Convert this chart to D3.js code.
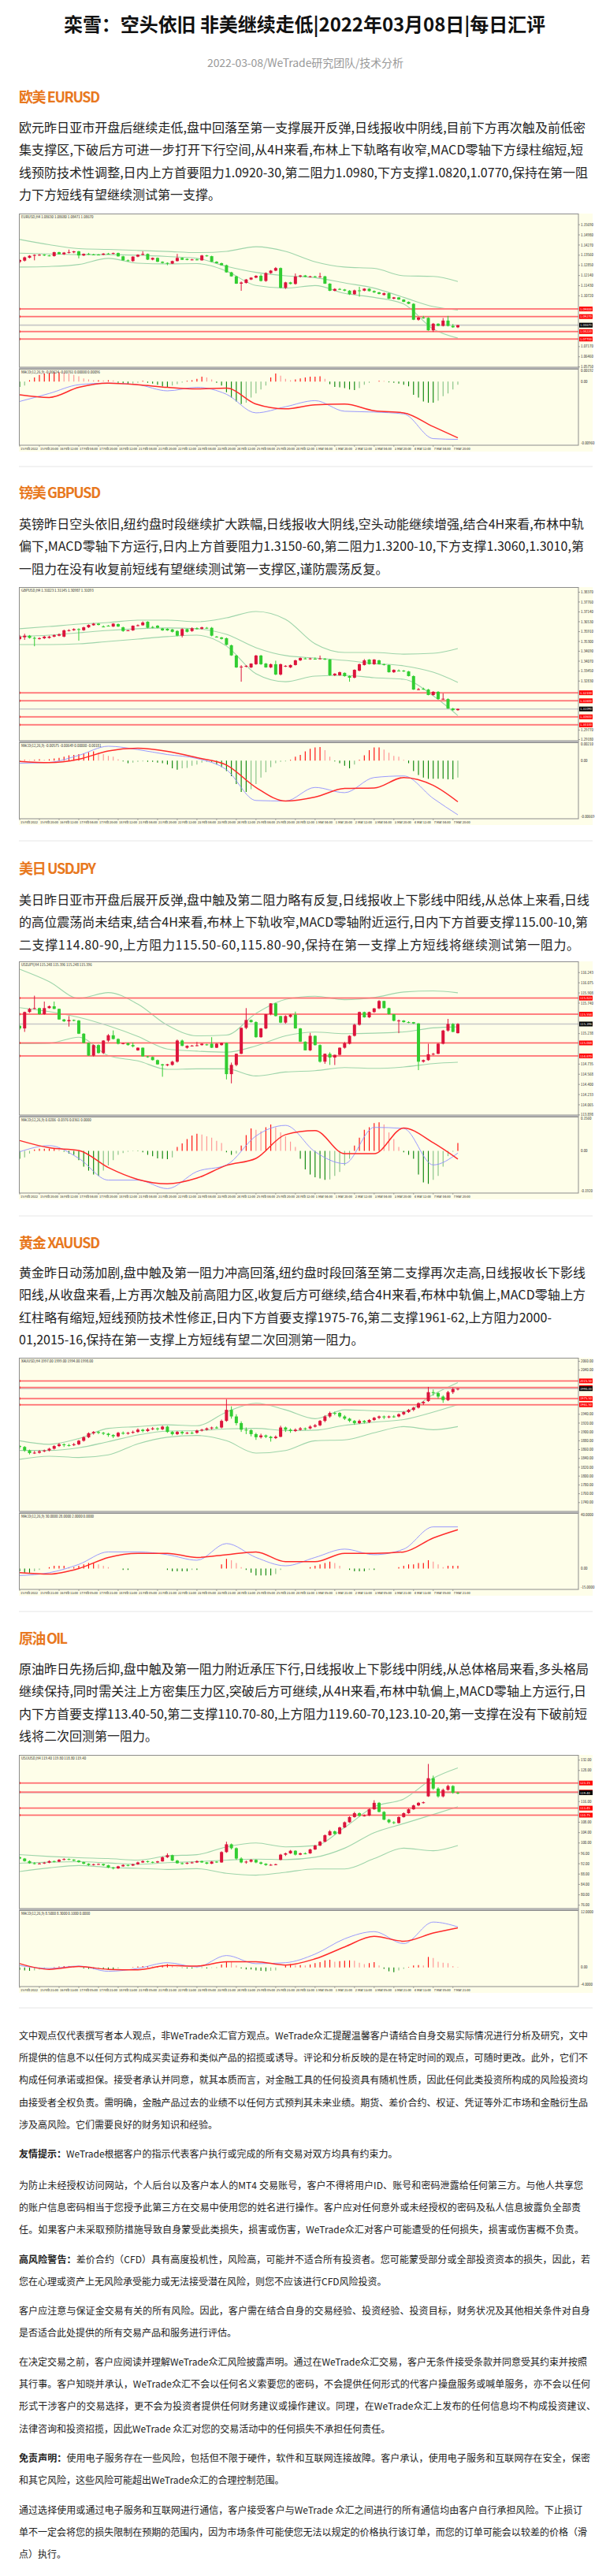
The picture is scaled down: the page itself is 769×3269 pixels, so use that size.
<!DOCTYPE html>
<html><head><meta charset="utf-8">
<script src="https://cdn.jsdelivr.net/npm/d3@7"></script>
<style>html,body{margin:0;padding:0;background:#fff}svg{display:block}</style>
</head><body>
<svg id="page" width="769" height="3269"></svg>
<script>
// ---------------- DATA ----------------
const titleText = "栾雪：空头依旧 非美继续走低|2022年03月08日|每日汇评";
const subtitleText = "2022-03-08/WeTrade研究团队/技术分析";
const sectionNames = ["欧美 EURUSD","镑美 GBPUSD","美日 USDJPY","黄金 XAUUSD","原油 OIL"];
const eurText = ["欧元昨日亚市开盘后继续走低,盘中回落至第一支撑展开反弹,日线报收中阴线,目前下方再次触及前低密",
"集支撑区,下破后方可进一步打开下行空间,从4H来看,布林上下轨略有收窄,MACD零轴下方绿柱缩短,短",
"线预防技术性调整,日内上方首要阻力1.0920-30,第二阻力1.0980,下方支撑1.0820,1.0770,保持在第一阻",
"力下方短线有望继续测试第一支撑。"];
const gbpText = ["英镑昨日空头依旧,纽约盘时段继续扩大跌幅,日线报收大阴线,空头动能继续增强,结合4H来看,布林中轨",
"偏下,MACD零轴下方运行,日内上方首要阻力1.3150-60,第二阻力1.3200-10,下方支撑1.3060,1.3010,第",
"一阻力在没有收复前短线有望继续测试第一支撑区,谨防震荡反复。"];
const jpyText = ["美日昨日亚市开盘后展开反弹,盘中触及第二阻力略有反复,日线报收上下影线中阳线,从总体上来看,日线",
"的高位震荡尚未结束,结合4H来看,布林上下轨收窄,MACD零轴附近运行,日内下方首要支撑115.00-10,第",
"二支撑114.80-90,上方阻力115.50-60,115.80-90,保持在第一支撑上方短线将继续测试第一阻力。"];
const xauText = ["黄金昨日动荡加剧,盘中触及第一阻力冲高回落,纽约盘时段回落至第二支撑再次走高,日线报收长下影线",
"阳线,从收盘来看,上方再次触及前高阻力区,收复后方可继续,结合4H来看,布林中轨偏上,MACD零轴上方",
"红柱略有缩短,短线预防技术性修正,日内下方首要支撑1975-76,第二支撑1961-62,上方阻力2000-",
"01,2015-16,保持在第一支撑上方短线有望二次回测第一阻力。"];
const oilText = ["原油昨日先扬后抑,盘中触及第一阻力附近承压下行,日线报收上下影线中阴线,从总体格局来看,多头格局",
"继续保持,同时需关注上方密集压力区,突破后方可继续,从4H来看,布林中轨偏上,MACD零轴上方运行,日",
"内下方首要支撑113.40-50,第二支撑110.70-80,上方阻力119.60-70,123.10-20,第一支撑在没有下破前短",
"线将二次回测第一阻力。"];
const disclaimer = [
 ["文中观点仅代表撰写者本人观点，非WeTrade众汇官方观点。WeTrade众汇提醒温馨客户请结合自身交易实际情况进行分析及研究，文中",
  "所提供的信息不以任何方式构成买卖证券和类似产品的招揽或诱导。评论和分析反映的是在特定时间的观点，可随时更改。此外，它们不",
  "构成任何承诺或担保。接受者承认并同意，就其本质而言，对金融工具的任何投资具有随机性质，因此任何此类投资所构成的风险投资均",
  "由接受者全权负责。需明确，金融产品过去的业绩不以任何方式预判其未来业绩。期货、差价合约、权证、凭证等外汇市场和金融衍生品",
  "涉及高风险。它们需要良好的财务知识和经验。"],
 ["**友情提示：**WeTrade根据客户的指示代表客户执行或完成的所有交易对双方均具有约束力。"],
 ["为防止未经授权访问网站，个人后台以及客户本人的MT4 交易账号，客户不得将用户ID、账号和密码泄露给任何第三方。与他人共享您",
  "的账户信息密码相当于您授予此第三方在交易中使用您的姓名进行操作。客户应对任何意外或未经授权的密码及私人信息披露负全部责",
  "任。如果客户未采取预防措施导致自身蒙受此类损失，损害或伤害，WeTrade众汇对客户可能遭受的任何损失，损害或伤害概不负责。"],
 ["**高风险警告：**差价合约（CFD）具有高度投机性，风险高，可能并不适合所有投资者。您可能蒙受部分或全部投资资本的损失，因此，若",
  "您在心理或资产上无风险承受能力或无法接受潜在风险，则您不应该进行CFD风险投资。"],
 ["客户应注意与保证金交易有关的所有风险。因此，客户需在结合自身的交易经验、投资经验、投资目标，财务状况及其他相关条件对自身",
  "是否适合此处提供的所有交易产品和服务进行评估。"],
 ["在决定交易之前，客户应阅读并理解WeTrade众汇风险披露声明。通过在WeTrade众汇交易，客户无条件接受条款并同意受其约束并按照",
  "其行事。客户知晓并承认，WeTrade众汇不会以任何名义索要您的密码，不会提供任何形式的代客户操盘服务或喊单服务，亦不会以任何",
  "形式干涉客户的交易选择，更不会为投资者提供任何财务建议或操作建议。同理，在WeTrade众汇上发布的任何信息均不构成投资建议、",
  "法律咨询和投资招揽，因此WeTrade 众汇对您的交易活动中的任何损失不承担任何责任。"],
 ["**免责声明：**使用电子服务存在一些风险，包括但不限于硬件，软件和互联网连接故障。客户承认，使用电子服务和互联网存在安全，保密",
  "和其它风险，这些风险可能超出WeTrade众汇的合理控制范围。"],
 ["通过选择使用或通过电子服务和互联网进行通信，客户接受客户与WeTrade 众汇之间进行的所有通信均由客户自行承担风险。下止损订",
  "单不一定会将您的损失限制在预期的范围内，因为市场条件可能使您无法以规定的价格执行该订单，而您的订单可能会以较差的价格（滑",
  "点）执行。"]
];

const bandIdx = [0,6,12,18,24,30,36,42,48,54,60,66,72,78,84,89];
const dateLabelsA = ["15 Feb 2022","15 Feb 20:00","16 Feb 12:00","17 Feb 04:00","17 Feb 20:00","18 Feb 12:00","21 Feb 04:00","21 Feb 20:00","22 Feb 12:00","23 Feb 04:00","23 Feb 20:00","24 Feb 12:00","25 Feb 04:00","25 Feb 20:00","28 Feb 12:00","1 Mar 04:00","1 Mar 20:00","2 Mar 12:00","3 Mar 04:00","3 Mar 20:00","4 Mar 12:00","7 Mar 04:00","7 Mar 20:00"];
const dateLabelsB = ["15 Feb 2022","15 Feb 21:00","16 Feb 13:00","17 Feb 05:00","17 Feb 21:00","18 Feb 13:00","21 Feb 05:00","21 Feb 21:00","22 Feb 13:00","23 Feb 05:00","23 Feb 21:00","24 Feb 13:00","25 Feb 05:00","25 Feb 21:00","28 Feb 13:00","1 Mar 05:00","1 Mar 21:00","2 Mar 13:00","3 Mar 05:00","3 Mar 21:00","4 Mar 13:00","7 Mar 05:00","7 Mar 21:00"];

// EURUSD (pips, x1e-4)
const eurOHLC = [
[11310,11328,11300,11322],[11318,11346,11312,11341],[11338,11356,11334,11352],[11352,11362,11320,11358],[11358,11364,11352,11359],
[11360,11363,11350,11354],[11354,11358,11348,11351],[11350,11380,11346,11377],[11377,11380,11360,11363],[11362,11378,11358,11374],
[11374,11395,11368,11378],[11376,11386,11370,11383],[11383,11386,11334,11354],[11354,11368,11350,11365],[11365,11372,11358,11361],
[11361,11366,11356,11360],[11360,11364,11355,11359],[11359,11370,11356,11367],[11367,11372,11362,11366],[11366,11374,11362,11371],
[11371,11374,11346,11348],[11348,11352,11318,11320],[11320,11326,11312,11318],[11315,11348,11310,11346],[11346,11362,11342,11359],
[11359,11383,11355,11365],[11365,11368,11322,11325],[11325,11340,11320,11337],[11337,11340,11308,11310],[11310,11313,11298,11302],
[11302,11306,11286,11297],[11297,11318,11294,11315],[11315,11365,11312,11337],[11337,11340,11322,11324],[11330,11334,11320,11323],
[11323,11330,11320,11326],[11326,11332,11320,11323],[11320,11358,11318,11354],[11354,11358,11346,11349],[11349,11352,11308,11310],
[11310,11314,11298,11300],[11300,11304,11284,11286],[11286,11290,11234,11236],[11236,11240,11206,11208],[11208,11212,11155,11157],
[11157,11172,11107,11165],[11162,11190,11158,11186],[11186,11202,11182,11199],[11199,11216,11195,11212],[11212,11222,11172,11176],
[11176,11236,11170,11231],[11231,11252,11226,11248],[11248,11273,11244,11266],[11266,11270,11124,11128],[11128,11170,11120,11166],
[11166,11170,11152,11155],[11155,11228,11150,11207],[11207,11218,11200,11214],[11214,11218,11202,11205],[11205,11212,11200,11208],
[11208,11212,11200,11204],[11204,11233,11198,11208],[11208,11212,11155,11157],[11157,11160,11105,11107],[11107,11125,11104,11120],
[11120,11126,11112,11116],[11116,11120,11104,11108],[11108,11112,11078,11083],[11083,11115,11080,11110],[11110,11135,11066,11108],
[11108,11125,11104,11122],[11122,11125,11102,11105],[11105,11110,11092,11096],[11096,11100,11082,11085],[11078,11095,11074,11090],
[11090,11094,11050,11052],[11052,11064,11048,11061],[11061,11063,11044,11046],[11046,11048,11028,11030],[11030,11033,11014,11016],
[11016,11020,10902,10905],[10905,10925,10898,10920],[10920,10932,10912,10918],[10918,10922,10828,10831],[10831,10882,10820,10877],
[10877,10880,10860,10862],[10862,10917,10858,10899],[10899,10932,10858,10862],[10862,10875,10848,10852],[10852,10868,10847,10867]];
const eurUpper = [11466,11429,11402,11396,11389,11382,11374,11383,11415,11383,11310,11273,11264,11212,11208,11172];
const eurMid   = [11370,11365,11360,11360,11356,11347,11334,11278,11236,11212,11199,11162,11126,11061,10997,10973];
const eurLower = [11273,11277,11291,11334,11300,11295,11297,11245,11144,11126,11144,11089,11061,11015,10840,10776];
const eurLevels = [10980,10927,10822,10770];
const eurLast = 10867;
const eurTicks = [11640,11569,11498,11427,11356,11285,11214,11143,11072,11001,10930,10859,10788,10717,10646,10575];
const eurHist = [-80,-60,20,60,100,120,128,140,140,132,120,100,80,48,32,20,20,16,20,16,-20,-32,-40,-32,-20,12,-20,-32,-48,-72,-80,-60,-40,-16,12,20,40,72,60,32,-20,-60,-160,-240,-300,-340,-320,-240,-180,-120,-60,60,120,88,40,20,32,48,60,72,72,80,40,-40,-80,-88,-100,-120,-128,-100,-48,-20,0,12,8,-12,-20,-32,-48,-72,-200,-240,-300,-320,-320,-288,-220,-180,-120,-48];
const eurMacdBlue = [-300,-180,-48,-24,-48,-140,-88,-192,-472,-380,-288,-448,-460,-488,-860,-872];
const eurMacdRed  = [-200,-240,-88,-24,-48,-88,-112,-100,-340,-412,-352,-340,-440,-472,-680,-848];
const eurMacdTicks = [192,0,-960];

// GBPUSD (pips)
const gbpOHLC = [
[13545,13570,13538,13560],[13556,13578,13540,13566],[13566,13570,13548,13552],[13552,13560,13500,13548],[13548,13556,13542,13550],
[13550,13565,13545,13560],[13552,13566,13548,13560],[13560,13574,13556,13569],[13566,13580,13562,13574],[13560,13604,13556,13599],
[13599,13606,13592,13600],[13600,13612,13596,13607],[13607,13612,13535,13604],[13600,13622,13596,13618],[13618,13636,13614,13633],
[13631,13645,13628,13641],[13641,13644,13630,13633],[13623,13630,13618,13623],[13628,13632,13624,13628],[13623,13644,13620,13641],
[13638,13642,13620,13623],[13618,13622,13590,13595],[13598,13602,13594,13599],[13599,13630,13596,13628],[13628,13636,13624,13631],
[13631,13655,13628,13648],[13653,13656,13612,13615],[13620,13626,13612,13618],[13628,13632,13612,13615],[13611,13614,13596,13599],
[13609,13612,13596,13599],[13605,13608,13586,13590],[13595,13600,13562,13566],[13566,13612,13555,13607],[13607,13610,13586,13590],
[13595,13618,13590,13612],[13612,13618,13604,13609],[13609,13622,13604,13618],[13615,13620,13610,13615],[13615,13620,13562,13566],
[13560,13564,13554,13558],[13555,13558,13542,13546],[13550,13554,13506,13509],[13506,13510,13440,13443],[13442,13446,13365,13368],
[13368,13382,13279,13373],[13373,13382,13368,13378],[13368,13394,13364,13392],[13388,13446,13384,13442],[13442,13446,13384,13388],
[13392,13396,13366,13368],[13368,13392,13364,13388],[13388,13410,13320,13324],[13324,13392,13318,13388],[13373,13382,13370,13378],
[13368,13386,13364,13383],[13383,13416,13380,13412],[13412,13430,13408,13427],[13424,13430,13420,13422],[13419,13428,13416,13424],
[13422,13430,13418,13422],[13422,13442,13418,13424],[13422,13426,13414,13417],[13417,13420,13316,13319],[13319,13332,13314,13329],
[13319,13342,13316,13338],[13334,13337,13310,13314],[13314,13318,13279,13304],[13304,13356,13300,13353],[13348,13392,13344,13388],
[13383,13420,13380,13412],[13417,13420,13386,13388],[13388,13420,13384,13417],[13412,13416,13386,13388],[13388,13392,13380,13383],
[13383,13386,13336,13338],[13338,13356,13334,13353],[13348,13356,13344,13348],[13348,13352,13340,13343],[13343,13346,13312,13314],
[13314,13318,13228,13230],[13230,13240,13226,13232],[13235,13242,13228,13235],[13230,13234,13194,13196],[13196,13220,13192,13216],
[13216,13220,13168,13171],[13171,13206,13166,13173],[13171,13175,13110,13112],[13112,13116,13098,13102],[13102,13112,13098,13109]];
const gbpUpper = [13609,13623,13638,13648,13663,13663,13653,13677,13717,13668,13515,13461,13461,13451,13456,13486];
const gbpMid   = [13560,13569,13584,13599,13609,13614,13609,13574,13491,13442,13427,13412,13392,13378,13338,13275];
const gbpLower = [13510,13510,13515,13530,13545,13560,13569,13501,13329,13279,13314,13319,13304,13294,13191,13068];
const gbpLevels = [13210,13160,13060,13010];
const gbpLast = 13109;
const gbpTicks = [13837,13776,13714,13653,13591,13530,13469,13407,13345,13283,13222,13161,13100,13038,12977,12918];
const gbpHist = [-15,9,6,9,15,9,15,24,30,45,60,66,75,84,96,105,90,75,54,45,15,-9,-30,-24,-15,-9,-15,-15,-24,-30,-45,-90,-105,-90,-84,-60,-45,-24,-15,-15,-45,-75,-120,-180,-270,-360,-360,-330,-270,-195,-135,-75,-30,-15,-9,9,45,66,105,135,150,156,120,45,-9,-30,-60,-90,-45,9,60,120,150,150,126,90,54,45,9,-30,-120,-165,-195,-210,-210,-210,-210,-216,-216,-195];
const gbpMacdBlue = [-30,-21,60,165,126,69,24,-105,-459,-465,-309,-369,-195,-177,-435,-624];
const gbpMacdRed  = [-9,-24,15,111,141,105,33,-51,-309,-465,-420,-321,-315,-195,-285,-474];
const gbpMacdTicks = [210,0,-669];

// USDJPY
const jpyOHLC = [
[115.366,115.380,115.300,115.323],[115.323,115.600,115.266,115.593],[115.593,115.660,115.580,115.645],[115.645,115.862,115.640,115.658],[115.658,115.665,115.550,115.558],
[115.558,115.766,115.550,115.658],[115.658,115.700,115.650,115.688],[115.688,115.766,115.640,115.645],[115.645,115.650,115.465,115.471],[115.471,115.480,115.430,115.440],
[115.440,115.527,115.353,115.462],[115.462,115.470,115.440,115.453],[115.453,115.462,115.230,115.236],[115.236,115.245,115.080,115.084],[115.084,115.090,114.870,114.875],
[114.875,115.060,114.860,115.049],[115.049,115.060,114.910,114.918],[114.918,115.130,114.900,115.123],[115.123,115.230,115.100,115.210],[115.210,115.290,115.140,115.149],
[115.149,115.160,115.060,115.071],[115.071,115.085,115.060,115.079],[115.079,115.090,115.040,115.049],[115.049,115.092,115.010,115.027],[114.962,115.010,114.955,115.005],
[115.005,115.010,114.860,114.862],[114.862,114.870,114.840,114.853],[114.853,114.860,114.795,114.801],[114.801,114.810,114.725,114.731],[114.731,114.740,114.527,114.714],
[114.714,114.740,114.700,114.731],[114.722,114.790,114.710,114.775],[114.775,115.140,114.760,115.123],[115.123,115.140,115.030,115.036],[115.005,115.045,114.990,115.036],
[115.036,115.050,115.025,115.040],[115.040,115.100,115.030,115.045],[115.049,115.075,115.040,115.071],[115.060,115.070,115.040,115.049],[115.071,115.179,115.000,115.005],
[115.005,115.080,115.000,115.071],[115.049,115.090,115.040,115.084],[115.084,115.090,114.483,114.570],[114.570,114.760,114.418,114.722],[114.722,114.910,114.700,114.905],
[114.905,115.340,114.900,115.332],[115.332,115.658,115.310,115.462],[115.462,115.470,115.420,115.427],[115.427,115.440,115.170,115.179],[115.179,115.330,115.170,115.323],
[115.323,115.560,115.310,115.558],[115.558,115.740,115.540,115.736],[115.736,115.745,115.520,115.527],[115.527,115.530,115.410,115.419],[115.419,115.540,115.400,115.527],
[115.514,115.560,115.500,115.549],[115.549,115.600,115.320,115.323],[115.323,115.330,115.100,115.105],[115.105,115.110,114.960,114.962],[114.962,115.250,114.950,115.201],
[115.201,115.210,115.040,115.049],[115.049,115.060,114.760,114.775],[114.775,114.910,114.740,114.905],[114.905,114.930,114.722,114.844],[114.844,114.890,114.720,114.888],
[114.888,115.010,114.880,115.005],[115.005,115.100,114.990,115.079],[115.071,115.210,115.060,115.201],[115.201,115.400,115.190,115.384],[115.384,115.600,115.370,115.593],
[115.593,115.600,115.500,115.506],[115.506,115.600,115.495,115.593],[115.593,115.660,115.580,115.653],[115.653,115.790,115.640,115.775],[115.775,115.780,115.650,115.658],
[115.658,115.665,115.550,115.558],[115.558,115.560,115.440,115.449],[115.449,115.470,115.245,115.453],[115.453,115.460,115.420,115.427],[115.427,115.440,115.410,115.427],
[115.427,115.430,115.395,115.405],[115.405,115.410,114.636,114.775],[114.775,114.810,114.760,114.801],[114.801,115.071,114.790,114.897],[114.897,114.920,114.880,114.905],
[114.905,115.080,114.900,115.071],[115.071,115.300,115.060,115.288],[115.288,115.480,115.270,115.397],[115.397,115.410,115.260,115.266],[115.245,115.410,115.240,115.397]];
const jpyUpper = [116.297,116.093,115.819,115.914,115.723,115.375,115.201,115.214,115.571,115.801,115.854,115.797,115.832,115.923,115.941,115.910];
const jpyMid   = [115.666,115.601,115.506,115.366,115.192,114.984,114.949,114.931,115.036,115.201,115.262,115.236,115.245,115.266,115.332,115.349];
const jpyLower = [115.071,115.079,115.179,114.875,114.788,114.649,114.657,114.657,114.540,114.605,114.627,114.679,114.666,114.688,114.744,114.766];
const jpyLevels = [115.823,115.558,115.084,114.870];
const jpyLast = 115.396;
const jpyTicks = [116.410,116.243,116.075,115.908,115.740,115.573,115.405,115.238,115.070,114.903,114.735,114.568,114.400,114.233,114.065,113.898];
const jpyHist = [-36,-30,-12,6,10,10,10,10,6,-4,-12,-18,-42,-72,-90,-108,-114,-90,-66,-42,-18,-10,-4,-2,-2,-6,-18,-24,-34,-36,-38,-30,18,34,54,70,78,74,66,60,46,36,-6,-18,-12,24,72,102,96,90,108,120,108,84,66,42,18,-36,-84,-108,-120,-126,-132,-130,-114,-96,-66,-36,24,60,96,108,126,130,120,84,54,18,-6,-18,-36,-108,-144,-150,-132,-114,-72,-24,-4,36];
const jpyMacdBlue = [-4,24,-34,-133,-133,-172,-94,-64,68,116,-4,-58,107,102,-64,-10];
const jpyMacdRed  = [47,14,2,-76,-130,-150,-124,-66,-34,74,92,-13,-13,104,37,-37];
const jpyMacdTicks = [156,0,-192];

// XAUUSD
const xauOHLC = [
[1868,1870,1862,1866],[1866,1868,1855,1858],[1858,1860,1849,1852],[1852,1857,1850,1853],[1853,1859,1851,1856],
[1856,1860,1854,1858],[1858,1864,1856,1862],[1862,1870,1860,1868],[1868,1875,1866,1872],[1872,1874,1866,1870],
[1870,1873,1867,1870],[1870,1875,1868,1872],[1872,1882,1870,1880],[1880,1890,1878,1888],[1888,1899,1886,1897],
[1897,1902,1894,1900],[1900,1902,1895,1898],[1898,1900,1893,1896],[1896,1898,1889,1893],[1893,1895,1886,1890],
[1890,1900,1888,1898],[1898,1901,1894,1896],[1896,1900,1894,1898],[1898,1903,1896,1900],[1900,1908,1898,1905],
[1905,1907,1899,1902],[1902,1909,1900,1906],[1906,1911,1904,1908],[1908,1910,1903,1906],[1906,1914,1904,1912],
[1912,1914,1898,1900],[1900,1902,1892,1895],[1895,1902,1893,1900],[1900,1902,1894,1897],[1897,1900,1895,1898],
[1898,1901,1895,1898],[1898,1905,1896,1903],[1903,1907,1901,1905],[1905,1910,1903,1908],[1908,1912,1905,1910],
[1910,1913,1907,1910],[1910,1928,1908,1925],[1925,1974,1923,1950],[1950,1958,1930,1935],[1935,1940,1915,1920],
[1920,1924,1900,1905],[1905,1910,1895,1904],[1904,1906,1890,1895],[1895,1898,1882,1888],[1888,1896,1885,1892],
[1892,1894,1886,1889],[1889,1891,1878,1886],[1886,1892,1884,1889],[1889,1914,1888,1910],[1910,1912,1900,1905],
[1905,1908,1898,1902],[1902,1908,1900,1905],[1905,1911,1903,1908],[1908,1910,1904,1908],[1908,1915,1906,1912],
[1912,1918,1910,1915],[1915,1927,1913,1925],[1925,1938,1922,1935],[1935,1946,1932,1943],[1943,1946,1938,1943],
[1943,1945,1932,1935],[1935,1938,1927,1930],[1930,1932,1922,1925],[1925,1927,1916,1920],[1920,1928,1918,1925],
[1925,1927,1919,1922],[1922,1929,1920,1927],[1927,1934,1925,1932],[1932,1937,1929,1935],[1935,1937,1929,1933],
[1933,1937,1931,1935],[1935,1938,1932,1935],[1935,1942,1933,1940],[1940,1947,1938,1945],[1945,1952,1943,1950],
[1950,1957,1947,1955],[1955,1967,1953,1965],[1965,1970,1961,1968],[1970,2002,1968,1990],[1990,1996,1982,1988],
[1988,1990,1975,1980],[1980,1983,1966,1972],[1972,1993,1970,1990],[1990,2000,1986,1997],[1997,1999,1994,1998]];
const xauUpper = [1880,1872,1885,1908,1912,1916,1914,1945,1965,1950,1930,1950,1948,1946,1985,2012];
const xauMid   = [1858,1858,1864,1878,1893,1902,1903,1907,1908,1903,1904,1915,1922,1928,1945,1962];
const xauLower = [1838,1845,1842,1848,1873,1888,1892,1880,1852,1858,1880,1882,1898,1912,1905,1912];
const xauLevels = [2015.5,2000.5,1975.5,1961.5];
const xauLast = 1998;
const xauTicks = [2060,2040,2020,2000,1980,1960,1940,1920,1900,1880,1860,1840,1820,1800,1780,1760,1740];
const xauHist = [-2,-3,-3,-2,-1,0,1,2,2,2,1, 1,2,3,4,4,3, 2,1,0,0,-1,-1, 0,0,0,0,0,0, 0,-1,-2,-2,-2,-2, -1,-1,0,0,0,0, 3,7,6,4,1,-1, -3,-5,-5,-5,-5,-4, -1,0,0,0,0,0, 1,2,3,4,5,4, 2,0,-1,-2,-2,-2, -1,-1,0,0,0,0, 1,2,3,3,4,4, 6,5,3,1,2,2,2];
const xauMacdBlue = [-5,-3,3,12,12,10,6,18,8,2,8,14,10,14,30,30];
const xauMacdRed  = [-3,-4,0,8,11,11,8,10,12,5,5,11,11,12,22,28];
const xauMacdTicks = [40,0,-15];

// OIL
const oilOHLC = [
[94.5,94.8,93.7,94.0],[94.0,94.2,92.8,93.0],[93.0,93.3,92.0,92.2],[92.2,92.6,91.7,92.0],[92.0,92.4,91.8,92.1],
[92.1,92.7,91.9,92.4],[92.4,93.3,92.2,93.0],[93.0,93.2,92.5,92.8],[92.8,93.8,92.6,93.5],[93.5,94.1,93.3,93.8],
[93.8,94.0,93.4,93.6],[93.6,93.7,93.0,93.2],[93.2,93.4,92.4,92.6],[92.6,92.8,91.8,92.0],[92.0,92.2,91.2,91.5],
[91.5,92.0,91.3,91.8],[91.8,92.1,91.6,91.9],[91.9,92.0,91.1,91.4],[91.4,91.6,90.3,90.5],[90.5,90.8,89.8,90.2],
[90.2,91.2,90.0,91.0],[91.0,91.8,90.8,91.5],[91.5,91.7,91.0,91.3],[91.3,92.0,91.1,91.8],[91.8,92.8,91.6,92.5],
[92.5,93.3,92.3,93.0],[93.0,93.2,92.4,92.7],[92.7,92.9,92.2,92.5],[92.5,93.1,92.3,92.9],[92.9,94.8,92.8,94.5],
[94.5,96.0,94.2,95.3],[95.3,95.5,93.0,93.2],[93.2,93.5,92.0,92.2],[92.2,92.5,91.7,92.0],[92.0,92.6,91.8,92.3],
[92.3,92.8,92.1,92.5],[92.5,93.3,92.3,93.0],[93.0,93.2,92.3,92.5],[92.5,92.7,91.8,92.0],[92.0,93.0,91.9,92.8],
[92.8,93.0,92.3,92.5],[92.5,96.8,92.4,96.5],[96.5,100.5,96.2,99.5],[99.5,99.8,97.5,98.0],[98.0,98.3,93.5,94.0],
[94.0,94.5,92.2,92.5],[92.5,93.2,92.0,92.8],[92.8,93.8,92.5,93.5],[93.5,93.7,92.2,92.5],[92.5,92.8,91.7,92.0],
[92.0,92.2,91.2,91.5],[91.5,91.9,91.3,91.6],[91.6,92.0,91.4,91.8],[93.5,95.8,93.3,95.5],[95.5,96.3,95.0,96.0],
[96.0,97.3,95.8,97.0],[97.0,97.2,95.2,95.5],[95.5,96.3,95.3,96.0],[96.0,96.4,95.6,96.0],[96.0,97.8,95.8,97.5],
[97.5,99.3,97.3,99.0],[99.0,100.8,98.8,100.5],[100.5,103.3,100.3,103.0],[103.0,105.0,102.8,104.5],[104.5,104.8,103.2,103.5],
[103.5,106.3,103.3,106.0],[106.0,108.3,105.8,108.0],[108.0,110.3,107.8,110.0],[110.0,112.0,109.8,111.5],[111.5,111.8,110.2,110.5],
[110.5,111.0,110.2,110.6],[110.6,113.3,110.4,113.0],[113.0,116.5,112.8,115.5],[115.5,115.8,111.8,112.0],[112.0,112.3,108.8,109.0],
[109.0,109.3,107.6,108.0],[108.0,108.4,107.3,107.7],[107.7,110.3,107.5,110.0],[110.0,111.8,109.8,111.5],[111.5,113.3,111.3,113.0],
[113.0,114.8,112.8,114.5],[114.5,115.8,114.2,115.5],[115.5,116.0,115.2,115.7],[118.0,130.5,117.8,125.0],[125.0,126.0,120.5,121.0],
[121.0,121.5,117.5,118.0],[118.0,121.0,117.6,120.5],[120.5,122.5,120.2,122.0],[122.0,122.3,119.0,119.4],[119.4,119.8,118.8,119.4]];
const oilUpper = [95.5,94.8,94.3,94.0,93.4,95.0,95.5,98.5,100,98.5,99,106,114,117,125,129];
const oilMid   = [92.2,92.6,92.8,92.3,91.8,92.4,92.8,93.4,93.8,93.6,94.5,98,104,107.5,111,114];
const oilLower = [89,90.4,91.3,90.6,90.2,89.8,90.1,88.3,87.6,88.7,90,90,94,98,97,99];
const oilLevels = [123.15,119.65,113.45,110.75];
const oilLast = 119.4;
const oilTicks = [132,128,124,120,116,112,108,104,100,96,92,88,84,80,76];
const oilHist = [-0.5,-0.6,-0.7,-0.6,-0.4,-0.2,0.0,0.1,0.2,0.3,0.3, 0.2,0.0,-0.2,-0.3,-0.3,-0.2, -0.3,-0.4,-0.4,-0.2,0.0,0.0, 0.1,0.2,0.3,0.3,0.2,0.2, 0.5,0.7,0.4,0.1,-0.1,-0.2, -0.2,-0.1,-0.1,-0.2,-0.1,-0.1, 0.6,1.2,1.1,0.4,-0.2,-0.4, -0.4,-0.6,-0.7,-0.8,-0.7,-0.6, 0.0,0.4,0.7,0.5,0.5,0.4, 0.6,0.9,1.1,1.5,1.6,1.2, 1.3,1.4,1.5,1.4,1.0,0.7, 0.9,1.1,0.4,-0.3,-0.8,-1.0, -0.6,-0.3,0.1,0.4,0.5,0.4, 2.2,2.0,1.2,1.0,0.9,0.3,0.1];
const oilMacdBlue = [0.4,-0.2,0.3,-0.8,-0.2,1.0,0.1,2.5,0.8,1.0,2.8,6.0,7.5,5.0,9.5,8.5];
const oilMacdRed  = [0.8,-0.4,0.2,-0.4,-0.5,0.4,0.3,1.2,1.2,0.5,1.8,4.3,6.5,5.5,7.2,8.3];
const oilMacdTicks = [12,0,-4];

// ---------------- DRAW ----------------
const svg = d3.select("#page");
const FONT = "'Liberation Sans Narrow','Noto Sans CJK SC','Noto Sans',sans-serif";
const BG = "#fefee9", BAND = "#9fd5ab", UP = "#dc143c", DN = "#32cd32";

function addText(parent, x, y, str, size, fill, fit, weight) {
  const t = parent.append("text").attr("x", x).attr("y", y)
    .attr("font-family", FONT).attr("font-size", size).attr("fill", fill);
  if (weight) t.attr("font-weight", weight);
  str.split("**").forEach((p, i) => { if (!p) return; const s = t.append("tspan").text(p); if (i % 2 === 1) s.attr("font-weight", "bold"); });
  if (fit) t.attr("textLength", fit).attr("lengthAdjust", "spacing");
  return t;
}

addText(svg, 81, 40, titleText, 24, "#111", 611, "bold");
addText(svg, 263, 85, subtitleText, 14, "#999", 249);

const layout = [
  {head:130, line:168, chart:271, sep:592, nameW:103, fits:[719,716,722,null]},
  {head:632, line:671, chart:745, sep:1067, nameW:104, fits:[717,717,null]},
  {head:1109, line:1148, chart:1220, sep:1543, nameW:98, fits:[724,722,711]},
  {head:1584, line:1621, chart:1723, sep:2045, nameW:103, fits:[719,719,676,null]},
  {head:2086, line:2124, chart:2227, sep:2548, nameW:62, fits:[723,720,721,null]}
];
const texts = [eurText, gbpText, jpyText, xauText, oilText];

const pipFmt = v => (v / 10000).toFixed(5);
const charts = [
 {ohlc:eurOHLC, up:eurUpper, mid:eurMid, lo:eurLower, levels:eurLevels, last:eurLast, ticks:eurTicks, domain:[10573,11647],
  fmt:pipFmt, hist:eurHist, blue:eurMacdBlue, red:eurMacdRed, mdomain:[-960,192], mticks:eurMacdTicks,
  mfmt:v=>v===0?"0.00":(v/1e5).toFixed(5), dates:dateLabelsA,
  title:"EURUSD,H4  1.08630 1.08680 1.08471 1.08670", mtitle:"MACD(12,26,9) -0.00624 -0.00761 0.00000 0.00096"},
 {ohlc:gbpOHLC, up:gbpUpper, mid:gbpMid, lo:gbpLower, levels:gbpLevels, last:gbpLast, ticks:gbpTicks, domain:[12911,13869],
  fmt:pipFmt, hist:gbpHist, blue:gbpMacdBlue, red:gbpMacdRed, mdomain:[-669,210], mticks:gbpMacdTicks,
  mfmt:v=>v===0?"0.00":(v/1e5).toFixed(5), dates:dateLabelsA,
  title:"GBPUSD,H4  1.31023 1.31145 1.30987 1.31093", mtitle:"MACD(12,26,9) -0.00575 -0.00649 0.00000 -0.00181"},
 {ohlc:jpyOHLC, up:jpyUpper, mid:jpyMid, lo:jpyLower, levels:jpyLevels, last:jpyLast, ticks:jpyTicks, domain:[113.896,116.428],
  fmt:v=>v.toFixed(3), hist:jpyHist, blue:jpyMacdBlue, red:jpyMacdRed, mdomain:[-192,156], mticks:jpyMacdTicks,
  mfmt:v=>v===0?"0.00":(v/1000).toFixed(4), dates:dateLabelsA,
  title:"USDJPY,H4  115.248 115.396 115.248 115.396", mtitle:"MACD(12,26,9) 0.0206 -0.0376 0.0361 0.0000"},
 {ohlc:xauOHLC, up:xauUpper, mid:xauMid, lo:xauLower, levels:xauLevels, last:xauLast, ticks:xauTicks, domain:[1720,2068],
  fmt:v=>v.toFixed(2), hist:xauHist, blue:xauMacdBlue, red:xauMacdRed, mdomain:[-15,40], mticks:xauMacdTicks,
  mfmt:v=>v===0?"0.00":v.toFixed(4), dates:dateLabelsB,
  title:"XAUUSD,H4  1997.00 1999.00 1994.00 1998.00", mtitle:"MACD(12,26,9) 30.0000 28.0000 2.0000 0.0000"},
 {ohlc:oilOHLC, up:oilUpper, mid:oilMid, lo:oilLower, levels:oilLevels, last:oilLast, ticks:oilTicks, domain:[74.7,134],
  fmt:v=>v.toFixed(2), hist:oilHist, blue:oilMacdBlue, red:oilMacdRed, mdomain:[-4,12], mticks:oilMacdTicks,
  mfmt:v=>v===0?"0.00":v.toFixed(4), dates:dateLabelsB,
  title:"USOUSD,H4  119.40 119.80 118.80 119.40", mtitle:"MACD(12,26,9) 8.5000 8.3000 0.1000 0.0000"}
];

function drawChart(top, c, k) {
  const g = svg.append("g").attr("transform", `translate(24,${top})`);
  const PW = 710, MH = 195, MT = 197, MB = 294;
  g.append("rect").attr("width", 728).attr("height", 302).attr("fill", BG);
  const x = d3.scaleLinear().domain([0, 89]).range([1, 557]);
  const y = d3.scaleLinear().domain(c.domain).range([MH, 0]);
  const ym = d3.scaleLinear().domain(c.mdomain).range([MB, MT]);
  const defs = g.append("defs");
  defs.append("clipPath").attr("id", "ca" + k).append("rect").attr("x", 0).attr("y", 0).attr("width", PW).attr("height", MH);
  defs.append("clipPath").attr("id", "cb" + k).append("rect").attr("x", 0).attr("y", MT).attr("width", PW).attr("height", MB - MT);
  const main = g.append("g").attr("clip-path", `url(#ca${k})`);
  const bl = d3.line().x((v, i) => x(bandIdx[i])).y(v => y(v)).curve(d3.curveMonotoneX);
  [c.up, c.mid, c.lo].forEach(a => main.append("path").attr("d", bl(a)).attr("fill", "none").attr("stroke", BAND).attr("stroke-width", 1.1));
  main.append("line").attr("x1", 0).attr("x2", PW).attr("y1", y(c.last)).attr("y2", y(c.last)).attr("stroke", "#c8c8c8").attr("stroke-width", 1.6);
  c.levels.forEach(v => {
    main.append("line").attr("x1", 0).attr("x2", PW).attr("y1", y(v)).attr("y2", y(v)).attr("stroke", "#ff9a9a").attr("stroke-width", 2);
    main.append("line").attr("x1", 0).attr("x2", PW).attr("y1", y(v)).attr("y2", y(v)).attr("stroke", "#ff5050").attr("stroke-width", 0.7);
    main.append("rect").attr("x", 0).attr("y", y(v) - 1.5).attr("width", 1.5).attr("height", 3).attr("fill", "#ff0000");
  });
  c.ohlc.forEach((d, i) => {
    const [o, h, l, cl] = d; const col = cl > o ? UP : DN; const cx = x(i);
    main.append("line").attr("x1", cx).attr("x2", cx).attr("y1", y(h)).attr("y2", y(l)).attr("stroke", col).attr("stroke-width", 1);
    const y0 = y(Math.max(o, cl)), hh = Math.max(1, Math.abs(y(o) - y(cl)));
    main.append("rect").attr("x", cx - 2).attr("y", y0).attr("width", 4).attr("height", hh).attr("fill", col);
  });
  const mg = g.append("g").attr("clip-path", `url(#cb${k})`);
  c.hist.forEach((v, i) => {
    const prev = i ? c.hist[i - 1] : v;
    const col = v >= 0 ? (v >= prev ? "#ff0000" : "#ff9090") : (v <= prev ? "#008000" : "#80c080");
    mg.append("line").attr("x1", x(i)).attr("x2", x(i)).attr("y1", ym(0)).attr("y2", ym(v)).attr("stroke", col).attr("stroke-width", 1.1);
  });
  const ml = d3.line().x((v, i) => x(bandIdx[i])).y(v => ym(v)).curve(d3.curveMonotoneX);
  mg.append("path").attr("d", ml(c.blue)).attr("fill", "none").attr("stroke", "#8d8dff").attr("stroke-width", 0.9);
  mg.append("path").attr("d", ml(c.red)).attr("fill", "none").attr("stroke", "#ff2a2a").attr("stroke-width", 1.5);
  g.append("rect").attr("x", 0.5).attr("y", 0.5).attr("width", PW - 0.5).attr("height", MH - 0.5).attr("fill", "none").attr("stroke", "#8c8c8c").attr("stroke-width", 1);
  g.append("rect").attr("x", 0).attr("y", MH).attr("width", PW + 1).attr("height", MT - MH).attr("fill", "#b4b4b4");
  g.append("rect").attr("x", 0.5).attr("y", MT + 0.5).attr("width", PW - 0.5).attr("height", MB - MT - 0.5).attr("fill", "none").attr("stroke", "#8c8c8c").attr("stroke-width", 1);
  const lvlY = c.levels.concat([c.last]).map(v => y(v));
  c.ticks.forEach(v => {
    const ty = y(v); if (ty < 2 || ty > MH) return;
    if (lvlY.some(q => Math.abs(q - ty) < 5)) return;
    g.append("line").attr("x1", PW).attr("x2", PW + 2).attr("y1", ty).attr("y2", ty).attr("stroke", "#666").attr("stroke-width", 0.6);
    addText(g, PW + 3, ty + 1.6, c.fmt(v), 4.4, "#222");
  });
  c.levels.forEach(v => {
    g.append("rect").attr("x", PW + 1).attr("y", y(v) - 3).attr("width", 17).attr("height", 6).attr("fill", "#ff0000");
    addText(g, PW + 2, y(v) + 1.6, c.fmt(v), 4.2, "#fff");
  });
  g.append("rect").attr("x", PW + 1).attr("y", y(c.last) - 3).attr("width", 17).attr("height", 6).attr("fill", "#000");
  addText(g, PW + 2, y(c.last) + 1.6, c.fmt(c.last), 4.2, "#fff");
  c.mticks.forEach(v => { addText(g, PW + 3, Math.min(MB - 1, Math.max(MT + 4, ym(v) + 1.6)), c.mfmt(v), 4.4, "#222"); });
  addText(g, 3, 6, c.title, 4.4, "#222");
  addText(g, 3, MT + 6, c.mtitle, 4.4, "#222");
  c.dates.forEach((s, j) => {
    g.append("line").attr("x1", x(4 * j)).attr("x2", x(4 * j)).attr("y1", MB).attr("y2", MB + 2).attr("stroke", "#666").attr("stroke-width", 0.5);
    addText(g, x(4 * j) + 1, MB + 5.5, s, 4, "#222");
  });
}

layout.forEach((L, k) => {
  addText(svg, 24, L.head, sectionNames[k], 18, "#e8781e", L.nameW, "bold");
  texts[k].forEach((s, i) => addText(svg, 24, L.line + i * 28.35, s, 16, "#222", L.fits[i]));
  drawChart(L.chart, charts[k], k);
  svg.append("line").attr("x1", 24).attr("x2", 752).attr("y1", L.sep).attr("y2", L.sep).attr("stroke", "#e6e6e6").attr("stroke-width", 1);
});

const discStart = [2587.5, 2737.5, 2777.5, 2871.5, 2936.5, 3001.5, 3123.5, 3189.5];
const discFits = [[722,722,722,722,null],[null],[716,713,717],[725,null],[725,null],[721,725,732,null],[725,null],[715,721,null]];
disclaimer.forEach((p, j) => {
  p.forEach((s, i) => addText(svg, 24, discStart[j] + i * 28.4, s, 12, "#222", discFits[j][i]));
});
</script>
</body></html>
